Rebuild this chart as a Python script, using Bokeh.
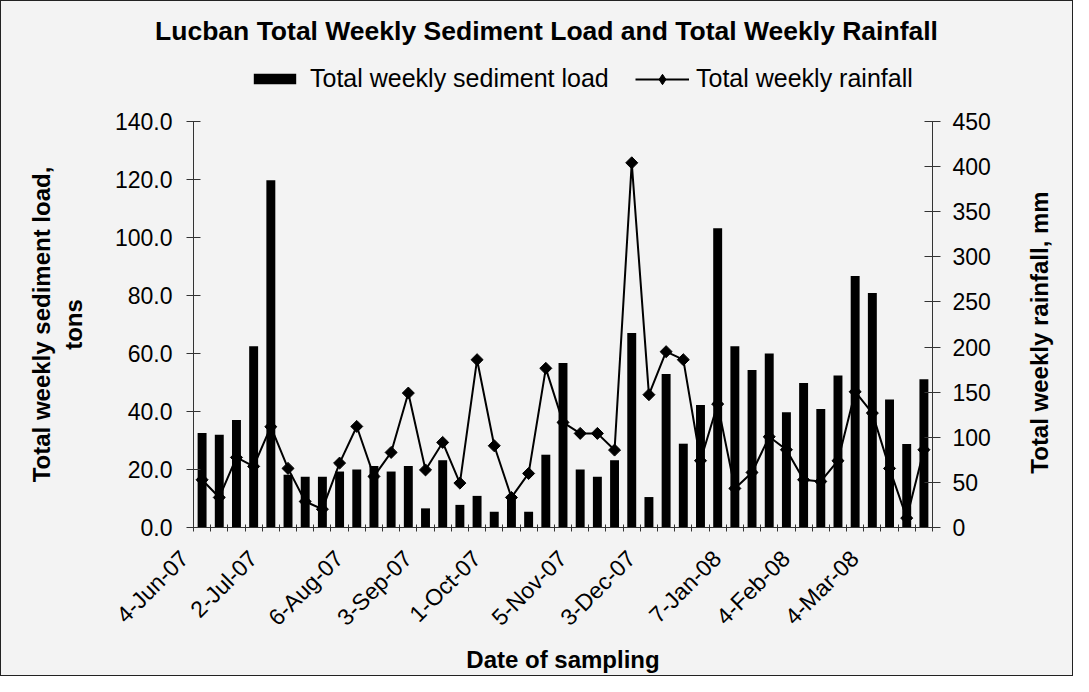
import math
import numpy as np
from bokeh.plotting import figure
from bokeh.layouts import column, row
from bokeh.models import (Range1d, LinearAxis, FixedTicker, NumeralTickFormatter,
                          Legend, LegendItem, Label, ColumnDataSource)
from bokeh.embed import file_html
from bokeh.resources import INLINE

# ---- data -------------------------------------------------------------
dates = ["4-Jun-07", "11-Jun-07", "18-Jun-07", "25-Jun-07",
         "2-Jul-07", "9-Jul-07", "16-Jul-07", "23-Jul-07", "30-Jul-07",
         "6-Aug-07", "13-Aug-07", "20-Aug-07", "27-Aug-07",
         "3-Sep-07", "10-Sep-07", "17-Sep-07", "24-Sep-07",
         "1-Oct-07", "8-Oct-07", "15-Oct-07", "22-Oct-07", "29-Oct-07",
         "5-Nov-07", "12-Nov-07", "19-Nov-07", "26-Nov-07",
         "3-Dec-07", "10-Dec-07", "17-Dec-07", "24-Dec-07", "31-Dec-07",
         "7-Jan-08", "14-Jan-08", "21-Jan-08", "28-Jan-08",
         "4-Feb-08", "11-Feb-08", "18-Feb-08", "25-Feb-08",
         "4-Mar-08", "11-Mar-08", "18-Mar-08", "25-Mar-08"]

sediment_load = [32.6, 32.0, 37.1, 62.5, 119.7, 18.2, 17.5, 17.5, 19.3, 20.0,
                 21.2, 19.3, 21.2, 6.6, 23.2, 7.8, 10.9, 5.4, 9.5, 5.4,
                 25.1, 56.7, 20.0, 17.5, 23.2, 67.1, 10.5, 52.9, 28.9, 42.2,
                 103.2, 62.5, 54.3, 60.0, 39.7, 49.8, 40.9, 52.4, 86.7, 80.9,
                 44.1, 28.8, 51.1]

rainfall = [52.9, 33.3, 77.7, 67.7, 111.7, 65.5, 28.8, 20.3, 71.4, 112.0,
            56.6, 83.2, 149.0, 63.8, 94.3, 49.2, 186.0, 90.6, 33.3, 59.9,
            176.4, 116.5, 104.3, 104.3, 85.8, 404.2, 147.2, 194.9, 186.0, 74.0,
            136.8, 43.3, 61.0, 100.6, 86.2, 52.9, 51.0, 74.0, 150.5, 126.8,
            65.5, 10.4, 86.2]

tick_labels = ["4-Jun-07", "2-Jul-07", "6-Aug-07", "3-Sep-07", "1-Oct-07",
               "5-Nov-07", "3-Dec-07", "7-Jan-08", "4-Feb-08", "4-Mar-08"]

left_ticks = [0, 20, 40, 60, 80, 100, 120, 140]
right_ticks = [0, 50, 100, 150, 200, 250, 300, 350, 400, 450]

title_text = "Lucban Total Weekly Sediment Load and Total Weekly Rainfall"
series_names = ["Total weekly sediment load", "Total weekly rainfall"]
x_title = "Date of sampling"
left_title = "Total weekly sediment load,\ntons"
right_title = "Total weekly rainfall, mm"

# ---- styling / layout sizes -------------------------------------------
BG = "#F3F3F3"
AX = "#333333"
FONT = "Liberation Sans"
W = 1071          # total inner width
TOP_H = 106       # header (title + legend)
MAIN_H = 568      # chart body
STRIP_W = 56      # strip holding the right axis title
MAIN_W = W - STRIP_W
PAD = "\u00a0\u00a0"   # trailing pad so the slanted labels end left of their week

x = list(range(1, len(dates) + 1))
src = ColumnDataSource(dict(x=x, date=dates, sed=sediment_load, rain=rainfall))

# ---- main chart -------------------------------------------------------
p = figure(width=MAIN_W, height=MAIN_H,
           x_range=Range1d(0.5, len(dates) + 0.5), y_range=Range1d(0, 140),
           output_backend="svg", toolbar_location=None,
           min_border_left=192, min_border_right=MAIN_W - 931,
           min_border_top=14, min_border_bottom=148,
           background_fill_color=BG, border_fill_color=BG,
           outline_line_color=None)
p.frame_align = False
p.extra_y_ranges = {"rain": Range1d(0, 450)}
p.grid.visible = False

bars = p.vbar(x="x", top="sed", width=0.52, source=src,
              fill_color="black", line_color=None)
line = p.line(x="x", y="rain", source=src, y_range_name="rain",
              line_color="black", line_width=2)
pts = p.scatter(x="x", y="rain", source=src, y_range_name="rain",
                marker="square", angle=math.pi / 4, size=8.5,
                fill_color="black", line_color="black")

# x axis
xa = p.xaxis[0]
tick_pos = [dates.index(t) + 1 - 0.5 for t in tick_labels]
xa.ticker = FixedTicker(ticks=tick_pos,
                        minor_ticks=[i + 0.5 for i in range(0, len(dates) + 1)])
xa.major_label_overrides = {tp: lab + PAD for tp, lab in zip(tick_pos, tick_labels)}
xa.major_label_orientation = math.pi / 4
xa.major_tick_in = 0
xa.major_tick_out = 0
xa.minor_tick_in = 3
xa.minor_tick_out = 4
xa.major_label_standoff = 14
xa.axis_label = x_title
xa.axis_label_standoff = 3

# left axis
ya = p.yaxis[0]
ya.ticker = FixedTicker(ticks=left_ticks, minor_ticks=[])
ya.formatter = NumeralTickFormatter(format="0.0")
ya.major_tick_in = 7
ya.major_tick_out = 7
ya.major_label_standoff = 14
ya.axis_label = left_title
ya.axis_label_standoff = 25

# right axis
ra = LinearAxis(y_range_name="rain",
                ticker=FixedTicker(ticks=right_ticks, minor_ticks=[]))
ra.major_tick_in = 8
ra.major_tick_out = 8
ra.major_label_standoff = 12
p.add_layout(ra, "right")

for ax in [xa, ya, ra]:
    ax.axis_line_color = AX
    ax.axis_line_width = 1
    ax.major_tick_line_color = AX
    ax.minor_tick_line_color = AX
    ax.major_label_text_font = FONT
    ax.major_label_text_font_size = "23px"
    ax.major_label_text_color = "black"
    ax.axis_label_text_font = FONT
    ax.axis_label_text_font_size = "24px"
    ax.axis_label_text_font_style = "bold"
    ax.axis_label_text_color = "black"


def blank(width, height):
    f = figure(width=width, height=height, x_range=Range1d(0, width),
               y_range=Range1d(0, height), output_backend="svg",
               toolbar_location=None, x_axis_location=None, y_axis_location=None,
               min_border=0, background_fill_color=BG, border_fill_color=BG,
               outline_line_color=None)
    f.frame_align = False
    f.grid.visible = False
    return f


# ---- right strip: right axis title (reads bottom-to-top) ----------------
strip = blank(STRIP_W, MAIN_H)
strip.add_layout(Label(x=23, y=MAIN_H - 225, text=right_title, angle=math.pi / 2,
                       text_align="center", text_baseline="alphabetic",
                       text_font=FONT, text_font_size="24px",
                       text_font_style="bold", text_color="black"))

# ---- header: title + legend ------------------------------------------
top = blank(W, TOP_H)
top.add_layout(Label(x=545, y=TOP_H - 29, text=title_text,
                     text_align="center", text_baseline="alphabetic",
                     text_font=FONT, text_font_size="26.5px",
                     text_font_style="bold", text_color="black"))

# legend proxies (no visible data) carrying the series styles
proxy = ColumnDataSource(dict(x=np.array([np.nan]), y=np.array([np.nan])))
lg_bar = top.vbar(x="x", top="y", width=1, source=proxy,
                  fill_color="black", line_color=None)
lg_line = top.line(x="x", y="y", source=proxy, line_color="black", line_width=2)
lg_pts = top.scatter(x="x", y="y", source=proxy, marker="diamond", size=10,
                     fill_color="black", line_color="black")

common = dict(orientation="horizontal", padding=0, margin=0,
              border_line_color=None, background_fill_alpha=0,
              label_text_font=FONT, label_text_font_size="25px",
              label_text_color="black")
legend_bar = Legend(items=[LegendItem(label=series_names[0], renderers=[lg_bar])],
                    location=(247, 14), glyph_width=53, glyph_height=13,
                    label_standoff=9, **common)
legend_line = Legend(items=[LegendItem(label=series_names[1], renderers=[lg_line, lg_pts])],
                     location=(634, 14), glyph_width=54, glyph_height=26,
                     label_standoff=7, **common)
top.add_layout(legend_bar)
top.add_layout(legend_line)

layout = column(top, row(p, strip, spacing=0, styles={"background-color": BG}),
                spacing=0,
                styles={"border": "1px solid #222222", "background-color": BG})

open("out.html", "w").write(file_html(layout, INLINE))
